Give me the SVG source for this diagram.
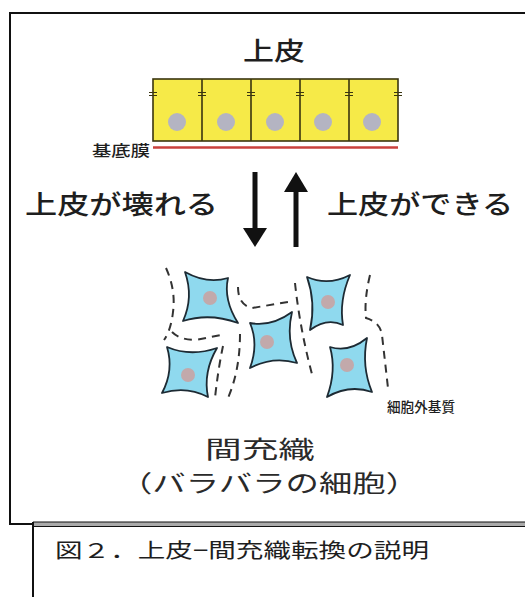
<svg xmlns="http://www.w3.org/2000/svg" width="525" height="597" viewBox="0 0 525 597">
  <style>
    .jp { font-family: "Noto Sans CJK JP", "Noto Sans", sans-serif; fill: #1e1e1e; }
    .big { font-weight: 500; }
    .soft { fill: #2a2a2a; }
    .frame { fill: none; stroke: #111; stroke-width: 2; }
    .epi { fill: #f6ea48; stroke: #3a3510; stroke-width: 1.6; }
    .tick { stroke: #3a3510; stroke-width: 1.2; }
    .epi-nuc { fill: #b4b4c2; }
    .mes { fill: #8fd9ee; stroke: #1d2a33; stroke-width: 1.8; stroke-linejoin: round; }
    .mes-nuc { fill: #c2a9ab; }
    .ecm { fill: none; stroke: #333; stroke-width: 2; stroke-dasharray: 8 6; }
    .shaft { stroke: #111; stroke-width: 5; }
    .head { fill: #111; }
  </style>

  <rect width="525" height="597" fill="#fff"/>

  <!-- outer figure frame -->
  <g id="frame">
    <path class="frame" d="M10,525 V13 H526"/>
    <path class="frame" d="M10,524 H33"/>
  </g>

  <!-- caption box with double top rule -->
  <g id="caption">
    <path d="M33,524 H526" stroke="#aaa" stroke-width="4"/>
    <path d="M33,522 H526 M33,526.5 H526" stroke="#111" stroke-width="1.2"/>
    <path d="M33,522 V597" stroke="#111" stroke-width="2"/>
    <text class="jp" x="55" y="558" font-size="20.5" textLength="374" lengthAdjust="spacingAndGlyphs">図２．上皮−間充織転換の説明</text>
  </g>

  <!-- epithelium -->
  <g id="epithelium">
    <text class="jp big" x="274" y="60" font-size="25" text-anchor="middle" textLength="62" lengthAdjust="spacingAndGlyphs">上皮</text>
    <rect class="epi" x="153" y="79" width="245" height="62"/>
    <path class="epi" d="M202,79 V141 M251,79 V141 M300,79 V141 M349,79 V141"/>
    <path class="tick" d="M149,92.5 H157 M149,95.5 H157 M198,92.5 H206 M198,95.5 H206 M247,92.5 H255 M247,95.5 H255 M296,92.5 H304 M296,95.5 H304 M345,92.5 H353 M345,95.5 H353 M394,92.5 H402 M394,95.5 H402"/>
    <circle class="epi-nuc" cx="177" cy="122" r="9"/>
    <circle class="epi-nuc" cx="226" cy="122" r="9"/>
    <circle class="epi-nuc" cx="275" cy="122" r="9"/>
    <circle class="epi-nuc" cx="323" cy="122" r="9"/>
    <circle class="epi-nuc" cx="372" cy="122" r="9"/>
  </g>

  <!-- basement membrane -->
  <g id="basement">
    <path d="M153,147.5 H398" stroke="#c9403d" stroke-width="2.5"/>
    <text class="jp big" x="92" y="156" font-size="15" textLength="58" lengthAdjust="spacingAndGlyphs">基底膜</text>
  </g>

  <!-- transition arrows -->
  <g id="connectors">
    <line class="shaft" x1="255" y1="172" x2="255" y2="230"/>
    <polygon class="head" points="243,228 267,228 255,247"/>
    <line class="shaft" x1="296" y1="190" x2="296" y2="247"/>
    <polygon class="head" points="284,192 308,192 296,172"/>
  </g>

  <g id="label-break">
    <text class="jp big" x="25" y="214" font-size="26.5" textLength="193" lengthAdjust="spacingAndGlyphs">上皮が壊れる</text>
  </g>
  <g id="label-form">
    <text class="jp big" x="327" y="214" font-size="26.5" textLength="186" lengthAdjust="spacingAndGlyphs">上皮ができる</text>
  </g>

  <!-- mesenchymal cells -->
  <g id="mesenchyme">
    <path class="mes" d="M185,272 Q207.3,284.4 228,278 Q223.2,299.7 238,323 Q209.7,312.6 183,321 Q193.8,297.3 185,272 Z"/>
    <circle class="mes-nuc" cx="210" cy="298" r="7"/>
    <path class="mes" d="M167,347 Q190.6,357 217,348 Q202.9,372 208,397 Q186.4,385.5 162,393 Q174.1,370.5 167,347 Z"/>
    <circle class="mes-nuc" cx="188" cy="375" r="7"/>
    <path class="mes" d="M250,323 Q271.5,327.1 292,312 Q285.6,339.1 297,363 Q273,355.9 250,368 Q258.9,343.9 250,323 Z"/>
    <circle class="mes-nuc" cx="267" cy="342" r="7"/>
    <path class="mes" d="M307,277 Q328.1,286.3 350,275 Q338.9,300.7 343,325 Q326.9,317.2 310,330 Q316.1,302.8 307,277 Z"/>
    <circle class="mes-nuc" cx="328" cy="302" r="7"/>
    <path class="mes" d="M330,347 Q348.7,352.9 367,338 Q361.3,366.4 372,392 Q349.3,384.1 327,397 Q336.7,370.6 330,347 Z"/>
    <circle class="mes-nuc" cx="347" cy="365" r="7"/>
  </g>

  <!-- extracellular matrix -->
  <g id="matrix">
    <path class="ecm" d="M166,268 Q176,290 173,312 Q171,330 164,340"/>
    <path class="ecm" d="M172,332 Q180,340 196,340 L221,335"/>
    <path class="ecm" d="M223,346 Q218,370 215,398"/>
    <path class="ecm" d="M240,334 Q240,370 228,398"/>
    <path class="ecm" d="M238,287 Q238,305 252,308 L288,302"/>
    <path class="ecm" d="M295,283 Q300,330 313,378"/>
    <path class="ecm" d="M370,275 Q364,300 366,318 Q380,322 382,335 L388,388"/>
    <text class="jp big" x="387" y="412" font-size="13.5" textLength="68" lengthAdjust="spacingAndGlyphs">細胞外基質</text>
  </g>

  <!-- mesenchyme label -->
  <g id="label-mesenchyme">
    <text class="jp soft" x="260" y="458" font-size="23.5" text-anchor="middle" textLength="110" lengthAdjust="spacingAndGlyphs">間充織</text>
    <text class="jp soft" x="269" y="492" font-size="23.5" text-anchor="middle" textLength="300" lengthAdjust="spacingAndGlyphs">（バラバラの細胞）</text>
  </g>
</svg>
